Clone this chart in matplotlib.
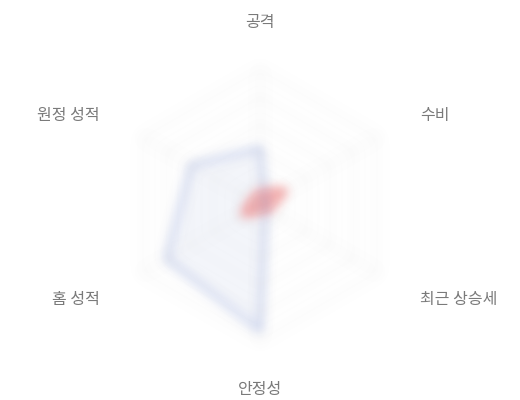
import numpy as np
import matplotlib
matplotlib.use("Agg")
import matplotlib.pyplot as plt
from matplotlib.colors import to_rgb
from matplotlib.transforms import ScaledTranslation

plt.rcParams['font.family'] = ['Noto Sans CJK KR', 'DejaVu Sans']

categories = ['공격', '수비', '최근 상승세', '안정성', '홈 성적', '원정 성적']
team_a = [42, 5, 5, 93, 80, 59]
team_b = [10, 22, 8, 5, 15, 8]
max_value = 100
levels = [20, 40, 60, 80, 100]

blue = '#5470c6'
red = '#ee6666'
grid_color = '#d8d8d8'
label_color = '#7a7a7a'


class BlurFilter:
    def __init__(self, color, sigma, alpha=1.0):
        self.rgb = np.array(to_rgb(color))
        self.sigma = sigma
        self.alpha = alpha

    def __call__(self, im, dpi):
        s = self.sigma * dpi / 100.0
        pad = int(3 * s) + 1
        a = np.zeros((im.shape[0] + 2 * pad, im.shape[1] + 2 * pad))
        a[pad:-pad, pad:-pad] = im[:, :, 3]
        x = np.arange(-pad, pad + 1)
        w = np.exp(-0.5 * (x / s) ** 2)
        w /= w.sum()
        b = np.zeros_like(a)
        for k, wk in zip(x, w):
            b += wk * np.roll(a, k, axis=0)
        c = np.zeros_like(a)
        for k, wk in zip(x, w):
            c += wk * np.roll(b, k, axis=1)
        out = np.zeros(a.shape + (4,))
        out[:, :, :3] = self.rgb
        out[:, :, 3] = np.clip(c * self.alpha, 0, 1)
        return out, -pad, -pad


fig = plt.figure(figsize=(5.2, 4.0), dpi=100)
R = 135
cx, cy = 260, 205
ax = fig.add_axes([(cx - R) / 520, (400 - cy - R) / 400, 2 * R / 520, 2 * R / 400],
                  projection='polar')
ax.set_theta_offset(np.pi / 2)
ax.set_theta_direction(-1)
ax.set_ylim(0, max_value)
ax.grid(False)
ax.set_xticks([])
ax.set_yticks([])
ax.spines['polar'].set_visible(False)
ax.patch.set_visible(False)

n = len(categories)
angles = np.linspace(0, 2 * np.pi, n, endpoint=False)
ang_c = np.concatenate([angles, angles[:1]])

SIG = 5.5

# grid
for lv in levels:
    ln, = ax.plot(ang_c, [lv] * (n + 1), color=grid_color, lw=1, clip_on=False)
    ln.set_agg_filter(BlurFilter(grid_color, SIG, 0.55))
for a in angles:
    ln, = ax.plot([a, a], [0, max_value], color=grid_color, lw=1, clip_on=False)
    ln.set_agg_filter(BlurFilter(grid_color, SIG, 0.45))


def series(vals, color, fill_alpha, line_alpha):
    v = np.concatenate([vals, vals[:1]])
    f = ax.fill(ang_c, v, color=color, alpha=1, lw=0, clip_on=False)[0]
    f.set_agg_filter(BlurFilter(color, SIG, fill_alpha))
    ln, = ax.plot(ang_c, v, color=color, lw=2.5, clip_on=False)
    ln.set_agg_filter(BlurFilter(color, SIG, line_alpha))


series(np.array(team_a), blue, 0.06, 0.45)
series(np.array(team_b), red, 0.5, 0.75)

# labels
lab_r = 1.37 * max_value
shift = ScaledTranslation(0, -2.5 / 100, fig.dpi_scale_trans)
for a, lab in zip(angles, categories):
    s = np.sin(a)
    c = np.cos(a)
    if abs(s) < 1e-6:
        ha = 'center'
    elif s > 0:
        ha = 'left'
    else:
        ha = 'right'
    r = lab_r if c > -0.99 else 1.35 * max_value
    ax.text(a, r, lab, ha=ha, va='center', fontsize=11.5, color=label_color,
            clip_on=False, transform=ax.transData + shift)

fig.savefig('out.png', dpi=100, facecolor='white')
